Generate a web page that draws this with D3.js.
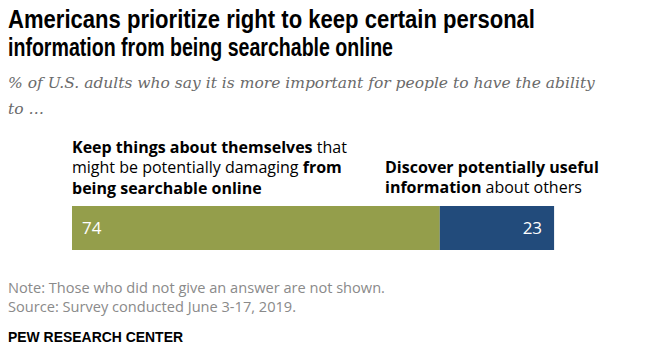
<!DOCTYPE html>
<html>
<head>
<meta charset="utf-8">
<script src="https://cdn.jsdelivr.net/npm/d3@7"></script>
<style>
  body { margin: 0; background: #fff; }
  svg { display: block; }
</style>
</head>
<body>
<div id="chart"></div>
<script>
// Pew: keep info from being searchable vs discover info about others

const categories = ['Keep things private', 'Discover information'];
const values = [74, 23];
const colors = ['#949e4b', '#224b7b'];
const titleLines = [
  'Americans prioritize right to keep certain personal',
  'information from being searchable online'
];
const subtitleLines = [
  '% of U.S. adults who say it is more important for people to have the ability',
  'to \u2026'
];
// label lines as [text, bold] runs
const leftLabel = [
  [['Keep things about themselves', true], [' that', false]],
  [['might be potentially damaging ', false], ['from', true]],
  [['being searchable online', true]]
];
const rightLabel = [
  [['Discover potentially useful', true]],
  [['information', true], [' about others', false]]
];
const notes = [
  'Note: Those who did not give an answer are not shown.',
  'Source: Survey conducted June 3-17, 2019.'
];

const w = 662, h = 362;
const svg = d3.select('#chart').append('svg').attr('width', w).attr('height', h);

const titleFont = '"Liberation Sans", Arial, sans-serif';
const bodyFont = '"Open Sans", Roboto, sans-serif';

// title: squeezed to mimic a condensed face
const titleWidths = [527, 385];
svg.append('g').selectAll('text')
  .data(titleLines).enter().append('text')
  .attr('x', 8).attr('y', (d, i) => 28 + i * 28)
  .attr('font-family', titleFont).attr('font-weight', 'bold')
  .attr('font-size', 25).attr('fill', '#000')
  .attr('textLength', (d, i) => titleWidths[i]).attr('lengthAdjust', 'spacingAndGlyphs')
  .text(d => d);

svg.append('g').selectAll('text')
  .data(subtitleLines).enter().append('text')
  .attr('x', 8).attr('y', (d, i) => 88 + i * 26)
  .attr('font-family', '"DejaVu Serif", serif').attr('font-style', 'italic')
  .attr('font-size', 15.5).attr('fill', '#6a6a6a')
  .text(d => d);

// bar
const x = d3.scaleLinear().domain([0, 100]).range([72, 569]);
const barY = 206, barH = 44;
let acc = 0;
const segs = values.map((v, i) => { const s = {cat: categories[i], v, x0: acc, x1: acc + v, color: colors[i]}; acc += v; return s; });

svg.append('g').selectAll('rect')
  .data(segs).enter().append('rect')
  .attr('x', d => x(d.x0)).attr('y', barY)
  .attr('width', d => x(d.x1) - x(d.x0)).attr('height', barH)
  .attr('fill', d => d.color);

svg.append('g').selectAll('text')
  .data(segs).enter().append('text')
  .attr('x', (d, i) => i === 0 ? x(d.x0) + 10 : x(d.x1) - 12)
  .attr('y', barY + barH / 2).attr('dy', '0.36em')
  .attr('text-anchor', (d, i) => i === 0 ? 'start' : 'end')
  .attr('font-family', bodyFont).attr('font-size', 17).attr('fill', '#fff')
  .text(d => d.v);

function richLines(lines, x0, y0, lh) {
  const g = svg.append('g');
  lines.forEach((runs, i) => {
    const t = g.append('text').attr('x', x0).attr('y', y0 + i * lh)
      .attr('font-family', bodyFont).attr('font-size', 16).attr('fill', '#000');
    runs.forEach(r => t.append('tspan')
      .attr('font-weight', r[1] ? 'bold' : 'normal')
      .text(r[0]));
  });
}
richLines(leftLabel, 72, 152.5, 20.5);
richLines(rightLabel, 385, 172.5, 20.5);

svg.append('g').selectAll('text')
  .data(notes).enter().append('text')
  .attr('x', 8).attr('y', (d, i) => 293 + i * 19)
  .attr('font-family', bodyFont).attr('font-size', 14.6).attr('fill', '#8a8a8a')
  .text(d => d);

svg.append('text').attr('x', 8).attr('y', 342)
  .attr('font-family', titleFont).attr('font-weight', 'bold')
  .attr('font-size', 15).attr('fill', '#000')
  .attr('textLength', 175).attr('lengthAdjust', 'spacingAndGlyphs')
  .text('PEW RESEARCH CENTER');
</script>
</body>
</html>
